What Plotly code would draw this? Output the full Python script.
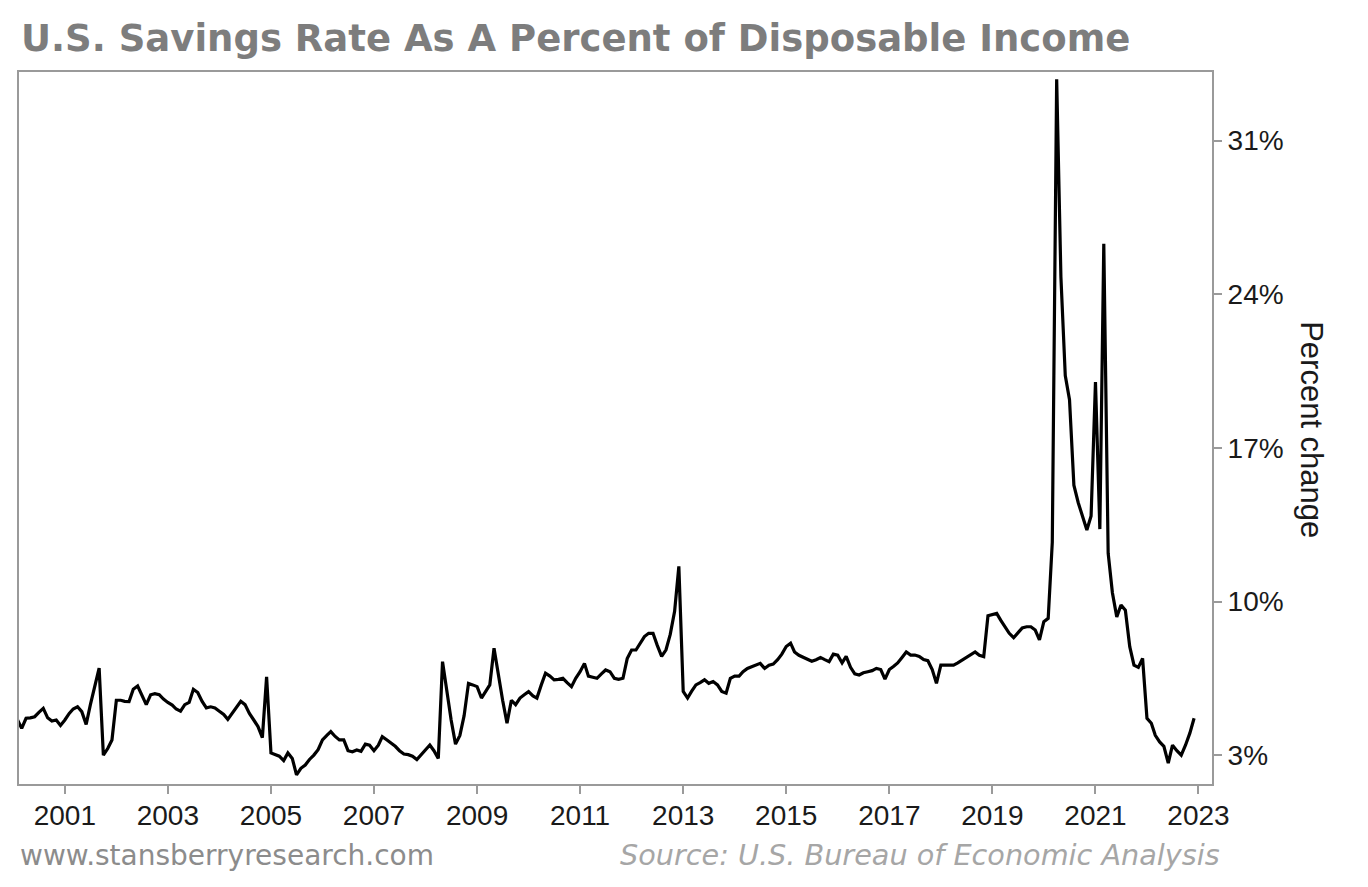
import pandas as pd
import plotly.graph_objects as go

# Monthly personal savings rate (%)
rate_2000 = [4.7, 4.6, 4.22, 4.68, 4.7, 4.75, 4.95, 5.13, 4.7, 4.55, 4.6, 4.35]
rate_2001 = [4.6, 4.9, 5.1, 5.2, 4.98, 4.4, 5.3, 6.2, 6.96, 3.0, 3.3, 3.69]
rate_2002 = [5.5, 5.5, 5.45, 5.44, 6.0, 6.15, 5.7, 5.3, 5.75, 5.8, 5.75, 5.55]
rate_2003 = [5.4, 5.28, 5.1, 5.0, 5.3, 5.4, 6.0, 5.85, 5.45, 5.15, 5.2, 5.15]
rate_2004 = [5.0, 4.85, 4.63, 4.9, 5.13, 5.45, 5.3, 4.9, 4.6, 4.3, 3.8, 6.57]
rate_2005 = [3.1, 3.0, 2.95, 2.75, 3.1, 2.85, 2.1, 2.4, 2.55, 2.8, 3.0, 3.25]
rate_2006 = [3.69, 3.9, 4.07, 3.85, 3.69, 3.69, 3.2, 3.15, 3.23, 3.17, 3.5, 3.45]
rate_2007 = [3.2, 3.45, 3.84, 3.7, 3.55, 3.4, 3.2, 3.05, 3.02, 2.95, 2.8, 3.0]
rate_2008 = [3.25, 3.46, 3.2, 2.85, 7.26, 5.9, 4.6, 3.5, 3.9, 4.8, 6.27, 6.2]
rate_2009 = [6.12, 5.6, 5.9, 6.2, 7.87, 6.6, 5.5, 4.45, 5.5, 5.3, 5.6, 5.75]
rate_2010 = [5.89, 5.7, 5.6, 6.2, 6.73, 6.6, 6.43, 6.45, 6.5, 6.3, 6.12, 6.5]
rate_2011 = [6.8, 7.18, 6.6, 6.55, 6.5, 6.7, 6.88, 6.8, 6.5, 6.45, 6.5, 7.4]
rate_2012 = [7.79, 7.79, 8.1, 8.4, 8.55, 8.55, 8.0, 7.5, 7.8, 8.5, 9.55, 11.6]
rate_2013 = [5.9, 5.6, 5.9, 6.2, 6.3, 6.43, 6.27, 6.35, 6.2, 5.9, 5.82, 6.5]
rate_2014 = [6.6, 6.6, 6.8, 6.95, 7.03, 7.1, 7.18, 6.95, 7.1, 7.15, 7.35, 7.6]
rate_2015 = [7.95, 8.1, 7.7, 7.55, 7.45, 7.35, 7.28, 7.35, 7.45, 7.35, 7.26, 7.6]
rate_2016 = [7.55, 7.2, 7.5, 7.0, 6.7, 6.65, 6.75, 6.8, 6.85, 6.95, 6.9, 6.46]
rate_2017 = [6.9, 7.05, 7.2, 7.45, 7.7, 7.56, 7.56, 7.5, 7.35, 7.3, 6.9, 6.27]
rate_2018 = [7.1, 7.1, 7.1, 7.1, 7.2, 7.33, 7.45, 7.6, 7.7, 7.55, 7.49, 9.35]
rate_2019 = [9.4, 9.46, 9.15, 8.85, 8.55, 8.35, 8.6, 8.8, 8.85, 8.85, 8.7, 8.25]
rate_2020 = [9.08, 9.23, 12.7, 33.8, 24.8, 20.3, 19.2, 15.3, 14.5, 13.9, 13.26, 13.9]
rate_2021 = [20.0, 13.3, 26.3, 12.2, 10.4, 9.3, 9.84, 9.6, 7.94, 7.1, 7.0, 7.41]
rate_2022 = [4.68, 4.45, 3.9, 3.6, 3.4, 2.63, 3.45, 3.2, 3.0, 3.45, 4.0, 4.68]

yearly = [rate_2000, rate_2001, rate_2002, rate_2003, rate_2004, rate_2005,
          rate_2006, rate_2007, rate_2008, rate_2009, rate_2010, rate_2011,
          rate_2012, rate_2013, rate_2014, rate_2015, rate_2016, rate_2017,
          rate_2018, rate_2019, rate_2020, rate_2021, rate_2022]
savings_rate = [v for year in yearly for v in year]
months = pd.date_range("2000-01-01", periods=len(savings_rate), freq="MS")

y_ticks = [3, 10, 17, 24, 31]
y_tick_labels = ["3%", "10%", "17%", "24%", "31%"]

title_text = "U.S. Savings Rate As A Percent of Disposable Income"
y_title = "Percent change"
left_note = "www.stansberryresearch.com"
source_note = "Source: U.S. Bureau of Economic Analysis"

fig = go.Figure()
fig.add_trace(go.Scatter(
    x=months, y=savings_rate, mode="lines",
    line=dict(color="#000000", width=3.2),
    hoverinfo="skip", showlegend=False,
))

axis_color = "#9a9a9a"
fig.update_layout(
    width=1368, height=887,
    margin=dict(l=9, r=164, t=64, b=111),
    paper_bgcolor="white", plot_bgcolor="white",
    font=dict(family="Liberation Sans, Arial, sans-serif", color="#1a1a1a"),
    xaxis=dict(
        type="date",
        range=["2000-02-11", "2023-04-07"],
        tick0="2001-01-01", dtick="M24", tickformat="%Y",
        ticks="outside", ticklen=8, tickwidth=2, tickcolor=axis_color,
        showline=True, linecolor=axis_color, linewidth=2, mirror=True,
        showgrid=False, zeroline=False,
        ticklabelstandoff=-3,
        tickfont=dict(size=28, color="#1a1a1a"),
    ),
    yaxis=dict(
        side="right",
        range=[1.683, 34.13],
        tickvals=y_ticks, ticktext=y_tick_labels,
        ticks="outside", ticklen=8, tickwidth=2, tickcolor=axis_color,
        showline=True, linecolor=axis_color, linewidth=2, mirror=True,
        showgrid=False, zeroline=False,
        tickfont=dict(size=28, color="#1a1a1a"),
    ),
)

fig.add_annotation(
    text="<b>" + title_text + "</b>", xref="paper", yref="paper",
    x=(17 - 17) / 1195, y=(784 - 38) / 712,
    xanchor="left", yanchor="middle", showarrow=False,
    font=dict(family="DejaVu Sans, sans-serif", size=37, color="#7d7d7d"),
)
fig.add_annotation(
    text=y_title, xref="paper", yref="paper",
    x=(1312 - 17) / 1195, y=(784 - 430) / 712,
    xanchor="center", yanchor="middle", textangle=90, showarrow=False,
    font=dict(size=31, color="#1a1a1a"),
)
fig.add_annotation(
    text=left_note, xref="paper", yref="paper",
    x=(16 - 17) / 1195, y=(784 - 855) / 712,
    xanchor="left", yanchor="middle", showarrow=False,
    font=dict(family="DejaVu Sans, sans-serif", size=28, color="#8c8c8c"),
)
fig.add_annotation(
    text="<i>" + source_note + "</i>", xref="paper", yref="paper",
    x=(1222 - 17) / 1195, y=(784 - 855) / 712,
    xanchor="right", yanchor="middle", showarrow=False,
    font=dict(family="DejaVu Sans, sans-serif", size=28.7, color="#a6a6a6"),
)

fig.write_html("out.html")
